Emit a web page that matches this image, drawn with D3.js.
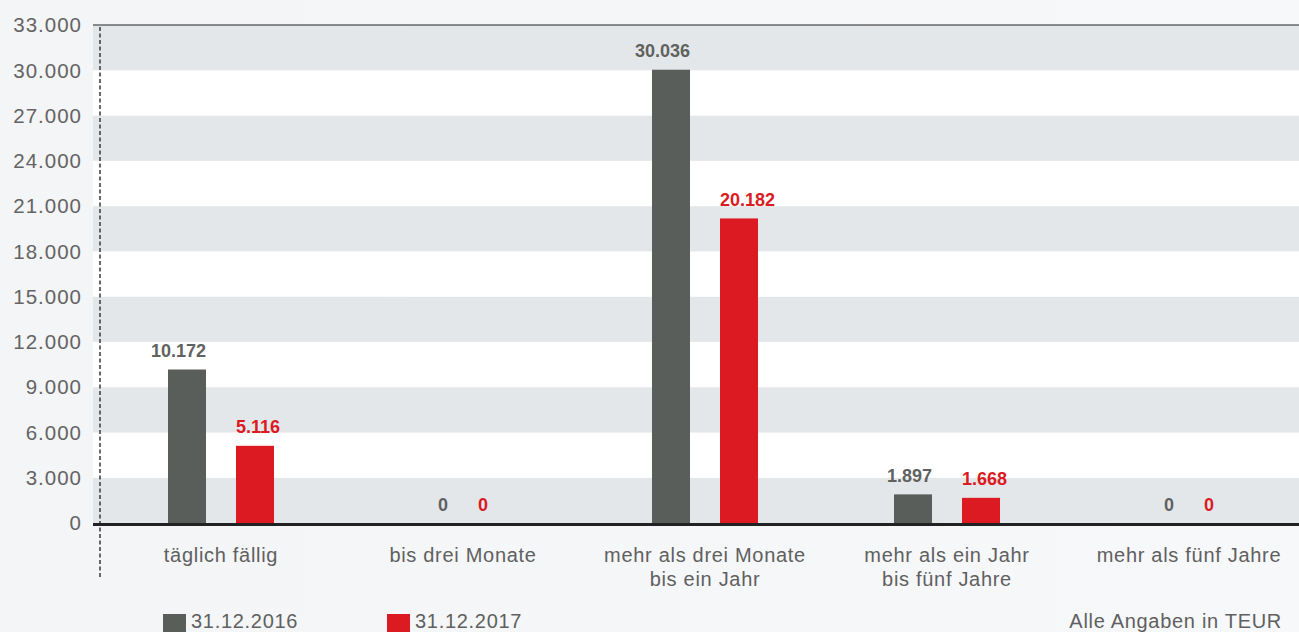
<!DOCTYPE html>
<html><head><meta charset="utf-8">
<script src="https://cdn.jsdelivr.net/npm/d3@7"></script>
<style>
html,body{margin:0;padding:0;}
body{width:1299px;height:632px;overflow:hidden;background:linear-gradient(90deg,#f4f5f7,#f7f8fa);font-family:"Liberation Sans",Arial,sans-serif;}
</style></head><body>
<svg id="c" width="1299" height="632"></svg>
<script>
const categories = [["täglich fällig"],["bis drei Monate"],["mehr als drei Monate","bis ein Jahr"],["mehr als ein Jahr","bis fünf Jahre"],["mehr als fünf Jahre"]];
const series2016 = [10172, 0, 30036, 1897, 0];
const series2017 = [5116, 0, 20182, 1668, 0];
const seriesNames = ["31.12.2016","31.12.2017"];
const tickValues = [0,3000,6000,9000,12000,15000,18000,21000,24000,27000,30000,33000];
const colors = ["#5a5e5a","#db1a22"];

const svg = d3.select("#c");
const x = d3.scaleBand().domain(d3.range(categories.length)).range([100,1310]);
const y = d3.scaleLinear().domain([0,33000]).range([523,25]);
const fmt = v => d3.format(",")(v).replace(/,/g,".");

// bands
const bandData = tickValues.slice(0,-1).map((v,i)=>({v0:v,v1:tickValues[i+1],i}));
svg.append("g").selectAll("rect").data(bandData).join("rect")
  .attr("x",93).attr("width",1299-93)
  .attr("y",d=>y(d.v1)).attr("height",d=>y(d.v0)-y(d.v1))
  .attr("fill",d=>d.i%2===0?"#e4e7ea":"#ffffff");

// top line
svg.append("line").attr("x1",93).attr("x2",1299).attr("y1",y(33000)).attr("y2",y(33000))
  .attr("stroke","#222").attr("stroke-width",1.2);

// y axis labels
const yAxis = d3.axisLeft(y).tickValues(tickValues).tickFormat(fmt).tickSize(0).tickPadding(0);
const ya = svg.append("g").attr("transform","translate(82,0)").call(yAxis);
ya.select(".domain").remove();
ya.selectAll("text").attr("fill","#646464").attr("font-size","20.5px").attr("letter-spacing","1px")
  .attr("font-family","'Liberation Sans',Arial,sans-serif").attr("dy","0.33em");

// dashed line
svg.append("line").attr("x1",100).attr("x2",100).attr("y1",27).attr("y2",578)
  .attr("stroke","#444").attr("stroke-width",1.6).attr("stroke-dasharray","4,2.5");

// bars
const off = [-34,34];
const bw = 38;
[series2016,series2017].forEach((s,si)=>{
  const g = svg.append("g");
  const cx = i => x(i)+x.bandwidth()/2+off[si];
  g.selectAll("rect").data(s).join("rect")
    .attr("x",(d,i)=>cx(i)-bw/2)
    .attr("width",bw)
    .attr("y",d=>y(d)).attr("height",d=>y(0)-y(d))
    .attr("fill",colors[si]);
  g.selectAll("text").data(s).join("text")
    .attr("x",(d,i)=>si===0 ? cx(i)+bw/2 : cx(i)-bw/2)
    .attr("y",d=>y(d)-12.5)
    .attr("text-anchor",si===0?"end":"start")
    .attr("font-size","18px").attr("font-weight","bold")
    .attr("fill",si===0?"#5f625f":"#db1a22")
    .text(d=>fmt(d));
});

// baseline
svg.append("line").attr("x1",93).attr("x2",1299).attr("y1",y(0)+1.5).attr("y2",y(0)+1.5)
  .attr("stroke","#222").attr("stroke-width",3);

// category labels
const cl = svg.append("g");
categories.forEach((lines,i)=>{
  const t = cl.append("text").attr("x",x(i)+x.bandwidth()/2).attr("y",562)
    .attr("text-anchor","middle").attr("font-size","20px").attr("letter-spacing","0.7px").attr("fill","#606060");
  lines.forEach((l,j)=>t.append("tspan").attr("x",x(i)+x.bandwidth()/2).attr("dy",j===0?0:23.5).text(l));
});

// legend
const legX = [163,387];
seriesNames.forEach((n,i)=>{
  svg.append("rect").attr("x",legX[i]).attr("y",614).attr("width",23).attr("height",18).attr("fill",colors[i]);
  svg.append("text").attr("x",legX[i]+28).attr("y",628).attr("font-size","20px").attr("letter-spacing","0.7px").attr("fill","#606060").text(n);
});
svg.append("text").attr("x",1282).attr("y",628).attr("text-anchor","end")
  .attr("font-size","20px").attr("letter-spacing","0.7px").attr("fill","#606060").text("Alle Angaben in TEUR");
</script>
</body></html>
